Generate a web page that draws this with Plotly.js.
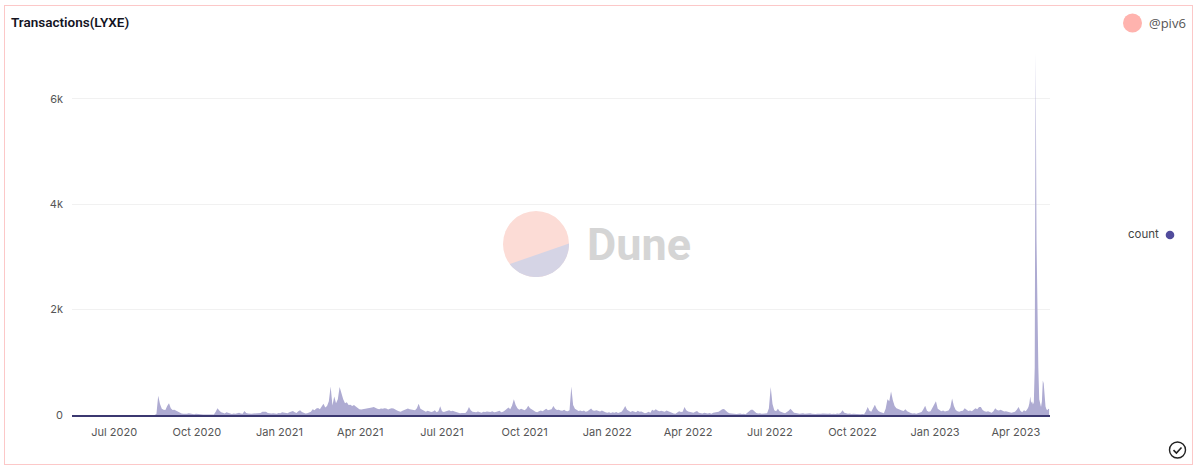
<!DOCTYPE html>
<html>
<head>
<meta charset="utf-8">
<script src="https://cdn.plot.ly/plotly-3.0.1.min.js"></script>
<style>
html,body{margin:0;padding:0;background:#fff;overflow:hidden}
#card{position:absolute;left:4px;top:5px;width:1187px;height:458px;border:1.5px solid #fcc8c8;box-sizing:content-box}
#chart{position:absolute;left:0;top:0;width:1200px;height:471px}
</style>
</head>
<body>
<div id="card"></div>
<div id="chart"></div>
<script>
// Quiet period before the first transfers
const quietDates = ['2020-05-15', '2020-08-15'];
const quietCounts = [0, 0];

// Two-day readings starting at this date
const twoDayStart = '2020-08-17';
const counts2020 = [
  20,365,210,120,100,95,170,225,130,95,
  100,80,70,45,30,25,20,25,35,30,
  15,12,25,20,8,12,10,8,6,5,
  8,6,10,60,130,85,50,45,30,50,
  40,30,20,30,25,35,45,30,25,75,
  40,30,25,25,30,30,35,30,40,60,
  55,60,40,30,30,35,30,25
];
const counts2021 = [
  40,35,50,45,30,35,50,60,75,50,
  40,70,90,55,40,30,35,45,60,110,
  90,125,135,110,160,215,140,170,260,540,
  180,350,225,300,530,385,300,225,240,190,
  195,170,190,160,130,110,105,110,120,115,
  130,125,140,150,130,120,110,125,120,130,
  125,105,120,130,125,100,85,70,60,80,
  100,115,125,110,100,90,90,130,215,120,
  95,70,60,80,70,55,65,90,50,70,
  165,70,55,65,75,90,70,80,65,50,
  40,35,40,45,40,75,150,90,60,55,
  50,65,60,45,60,55,65,60,55,70,
  50,55,65,80,50,60,85,110,140,110,
  180,300,190,130,100,120,100,90,120,175,
  130,100,85,60,50,70,85,70,100,120,
  90,100,110,170,120,95,100,85,80,100,
  75,70,90,540,190,120,100,75,85,70,
  85,60,70,90,125,85,80,90,70,65
];
const counts2022 = [
  85,60,50,45,50,40,50,45,55,40,
  55,60,110,170,100,70,55,75,65,50,
  80,60,65,50,35,45,60,45,100,80,
  110,85,70,80,65,60,85,70,50,35,
  30,25,45,70,55,60,150,90,65,55,
  50,45,60,75,45,35,30,45,35,30,
  40,25,45,50,65,60,85,110,115,80,
  50,35,30,25,30,20,25,30,20,25,
  15,45,75,100,100,70,40,30,35,25,
  30,25,35,130,530,210,90,70,120,70,
  50,45,35,50,80,120,75,45,40,30,
  25,30,35,25,30,40,35,25,20,20,
  25,20,25,30,25,20,25,30,20,25,
  20,30,25,45,90,45,30,25,30,20,
  25,20,15,12,15,20,15,70,150,80,
  60,130,195,120,75,55,45,35,120,300,
  260,447,280,170,130,110,100,85,75,110,
  70,50,40,30,35,25,40,50,55,110
];
const counts2023 = [
  175,80,60,70,130,195,260,120,95,70,
  85,65,75,85,140,315,170,95,70,60,
  75,80,130,95,75,85,70,100,130,110,
  150,150,95,70,60,70,55,45,70,130,
  95,85,100,75,65,70,60,55,45,50,
  60,100,150,80,50,90,70,120
];

// Daily readings at the end
const dailyStart = '2023-04-15';
const dailyCounts = [150,220,350,230,260,200,240,900,6880,3300,1500,900,300,180,150,260,655,600,250,160,110,90,115,120];

const yTicks = [0, 2000, 4000, 6000];
const DAY = 86400000;
const iso = ms => new Date(ms).toISOString().slice(0, 10);
const twoDay = [...counts2020, ...counts2021, ...counts2022, ...counts2023];
const t0 = Date.parse(twoDayStart + 'T00:00:00Z');
const t1 = Date.parse(dailyStart + 'T00:00:00Z');
const dates = [
  ...quietDates,
  ...twoDay.map((_, i) => iso(t0 + i * 2 * DAY)),
  ...dailyCounts.map((_, i) => iso(t1 + i * DAY))
];
const counts = [...quietCounts, ...twoDay, ...dailyCounts];

// Page-pixel helpers for the card furniture
const L = 72, R = 1050, T = 52, B = 415;
const px = x => (x - L) / (R - L);
const py = y => (B - y) / (B - T);
const circle = (cx, cy, r, fill, line) => ({
  type: 'circle', xref: 'paper', yref: 'paper', layer: 'below',
  x0: px(cx - r), x1: px(cx + r), y0: py(cy + r), y1: py(cy - r),
  fillcolor: fill, line: line || {width: 0}
});
const path = (pts, fill, line, close) => ({
  type: 'path', xref: 'paper', yref: 'paper', layer: 'below',
  path: pts.map((p, i) => (i ? 'L' : 'M') + px(p[0]).toFixed(5) + ',' + py(p[1]).toFixed(5)).join(' ') + (close ? ' Z' : ''),
  fillcolor: fill, line: line || {width: 0}
});
const text = (x, y, s, anchor, font) => ({
  xref: 'paper', yref: 'paper', x: px(x), y: py(y), text: s, showarrow: false,
  xanchor: anchor, yanchor: 'middle', font: font
});

// Lower slice of the watermark disc
const logoArc = [];
for (let a = -1; a <= 144.5; a += 3.5) {
  logoArc.push([536 + 33 * Math.cos(a * Math.PI / 180), 244 + 33 * Math.sin(a * Math.PI / 180)]);
}

const shapes = [
  circle(536, 244, 33, '#fcdcd6'),
  path(logoArc, '#d5d4e5', null, true),
  circle(1132.5, 23, 9.5, '#ffb3ae'),
  circle(1170, 235, 4.3, '#514c9c'),
  circle(1177.5, 450, 8, 'rgba(0,0,0,0)', {color: '#222', width: 1.4}),
  path([[1173.5, 450.2], [1176.4, 453], [1181.5, 447.5]], 'rgba(0,0,0,0)', {color: '#222', width: 1.6}, false)
];

const annotations = [
  text(584.5, 244, 'Dune', 'left', {family: 'Roboto, sans-serif', size: 45, color: '#d5d5d5', weight: 700}),
  text(1147, 23, '@piv6', 'left', {family: 'Open Sans, sans-serif', size: 13, color: '#555'}),
  text(1161, 234.5, 'count', 'right', {family: 'Inter, sans-serif', size: 11.5, color: '#444'})
];

const traces = [{
  type: 'scatter', mode: 'lines', name: 'count', x: dates, y: counts,
  fill: 'tozeroy', fillcolor: 'rgb(174,171,210)', line: {width: 0, color: 'rgb(174,171,210)'},
  hoverinfo: 'x+y', showlegend: false
}];

const tickFont = {family: 'Inter, sans-serif', size: 11, color: '#555'};
const layout = {
  width: 1200, height: 471, autosize: false,
  paper_bgcolor: 'rgba(0,0,0,0)', plot_bgcolor: 'rgba(0,0,0,0)',
  margin: {l: L, r: 1200 - R, t: T, b: 471 - B, pad: 0},
  showlegend: false,
  title: {
    text: 'Transactions(LYXE)', x: 11 / 1200, xanchor: 'left', xref: 'container',
    y: 1 - 22 / 471, yanchor: 'middle',
    font: {family: 'Roboto, sans-serif', size: 13.5, color: '#14141f', weight: 600}
  },
  xaxis: {
    type: 'date', range: ['2020-05-15', '2023-05-09'],
    tick0: '2020-07-01', dtick: 'M3', tickformat: '%b %Y',
    showgrid: false, zeroline: false, ticks: '', ticklabelstandoff: 6,
    showline: true, linecolor: '#3b3870', linewidth: 1.5, tickfont: tickFont
  },
  yaxis: {
    range: [0, 6888], tickvals: yTicks, ticktext: ['0', '2k', '4k', '6k'],
    gridcolor: '#f1f1f1', gridwidth: 1, zeroline: false, showline: false,
    ticks: '', ticklabelstandoff: 8, tickfont: tickFont
  },
  shapes: shapes,
  annotations: annotations
};

Plotly.newPlot('chart', traces, layout, {displayModeBar: false, responsive: false});
</script>
</body>
</html>
